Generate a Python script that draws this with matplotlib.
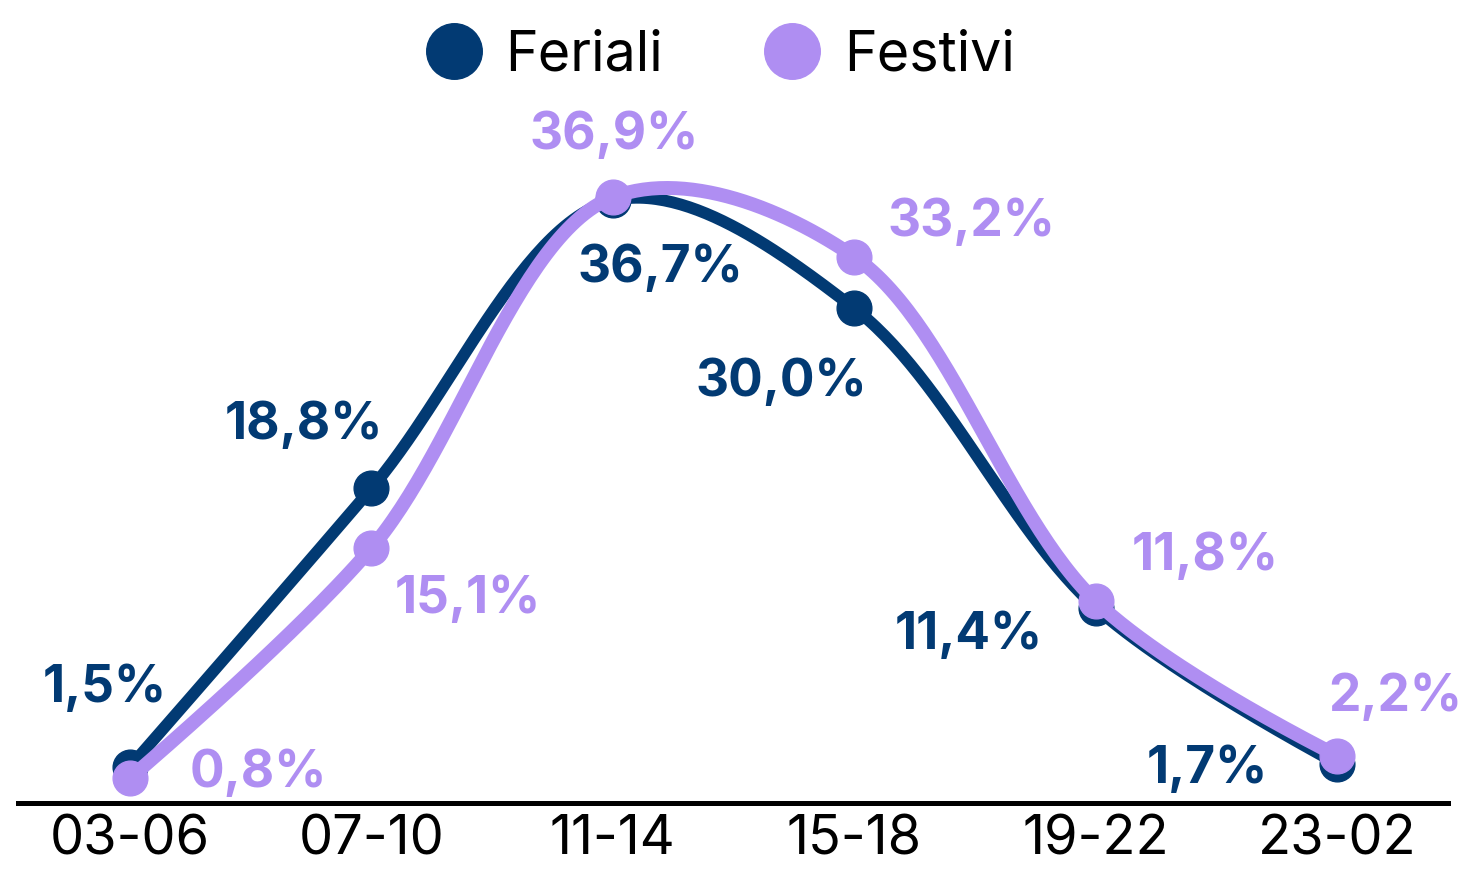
import numpy as np
import matplotlib.pyplot as plt
from matplotlib.lines import Line2D

plt.rcParams['font.family'] = ['Inter', 'DejaVu Sans']

fasce = ['03-06', '07-10', '11-14', '15-18', '19-22', '23-02']
feriali = [1.5, 18.8, 36.7, 30.0, 11.4, 1.7]
festivi = [0.8, 15.1, 36.9, 33.2, 11.8, 2.2]

NAVY = '#023a73'
LILLA = '#af8ef2'


def catmull_rom(ax, xv, yv, n=60, alpha=0.5):
    # centripetal catmull-rom through the points, built in display space (drawing only)
    P = ax.transData.transform(np.column_stack([xv, yv]))
    out = [P[:1]]
    u = np.linspace(0, 1, n)[:, None]
    for i in range(len(P) - 1):
        p1, p2 = P[i], P[i + 1]
        p0 = P[i - 1] if i > 0 else p1
        p3 = P[i + 2] if i + 2 < len(P) else p2
        l01 = np.linalg.norm(p1 - p0) ** alpha
        l12 = np.linalg.norm(p2 - p1) ** alpha
        l23 = np.linalg.norm(p3 - p2) ** alpha
        c1, c2 = p1.copy(), p2.copy()
        if l01 > 1e-9:
            a = 2 * l01**2 + 3 * l01 * l12 + l12**2
            c1 = (p1 * a - p0 * l12**2 + p2 * l01**2) / (3 * l01 * (l01 + l12))
        if l23 > 1e-9:
            b = 2 * l23**2 + 3 * l23 * l12 + l12**2
            c2 = (p2 * b + p1 * l23**2 - p3 * l12**2) / (3 * l23 * (l23 + l12))
        seg = ((1 - u)**3 * p1 + 3 * (1 - u)**2 * u * c1
               + 3 * (1 - u) * u**2 * c2 + u**3 * p2)
        out.append(seg[1:])
    pts = ax.transData.inverted().transform(np.vstack(out))
    return pts[:, 0], pts[:, 1]


fig = plt.figure(figsize=(14.79, 8.76), dpi=100)
ax = fig.add_axes([18 / 1479, 73 / 876, 1430 / 1479, 803 / 876])
ax.set_xlim(-0.464, 5.46)
ax.set_ylim(-0.75, 49.16)

x = np.arange(len(fasce))
sx, sy = catmull_rom(ax, x, feriali)
ax.plot(sx, sy, color=NAVY, lw=8.5, solid_capstyle='round', zorder=2)
ax.plot(x, feriali, 'o', color=NAVY, ms=25, zorder=3)
sx, sy = catmull_rom(ax, x, festivi)
ax.plot(sx, sy, color=LILLA, lw=10, solid_capstyle='round', zorder=4)
ax.plot(x, festivi, 'o', color=LILLA, ms=25, zorder=5)

# label offsets in pixels (dx, dy)
off_fer = [(-25, 78), (-68, 63), (48, -68), (-73, -74), (-127, -28), (-130, -6)]
off_fes = [(128, 5), (96, -52), (1, 62), (117, 34), (110, 45), (58, 58)]

for i, v in enumerate(feriali):
    ax.annotate(f'{v:.1f}%'.replace('.', ','), (x[i], v), xytext=off_fer[i],
                textcoords='offset pixels', ha='center', va='center',
                fontsize=37, fontweight='bold', color=NAVY, zorder=6)
for i, v in enumerate(festivi):
    ax.annotate(f'{v:.1f}%'.replace('.', ','), (x[i], v), xytext=off_fes[i],
                textcoords='offset pixels', ha='center', va='center',
                fontsize=37, fontweight='bold', color=LILLA, zorder=6)

ax.set_xticks(x)
ax.set_xticklabels(fasce, fontsize=39)
ax.set_yticks([])
ax.tick_params(axis='x', length=0, pad=8)
for s in ['top', 'left', 'right']:
    ax.spines[s].set_visible(False)
ax.spines['bottom'].set_linewidth(3.6)
ax.spines['bottom'].set_color('black')

handles = [Line2D([], [], ls='none', marker='o', ms=40, color=NAVY),
           Line2D([], [], ls='none', marker='o', ms=40, color=LILLA)]
fig.legend(handles, ['Feriali', 'Festivi'], loc='center',
           bbox_to_anchor=(0.487, 0.937), ncol=2, frameon=False,
           fontsize=40, handletextpad=0.43, columnspacing=1.82,
           handlelength=1.0)

fig.savefig('out.png', dpi=100)
